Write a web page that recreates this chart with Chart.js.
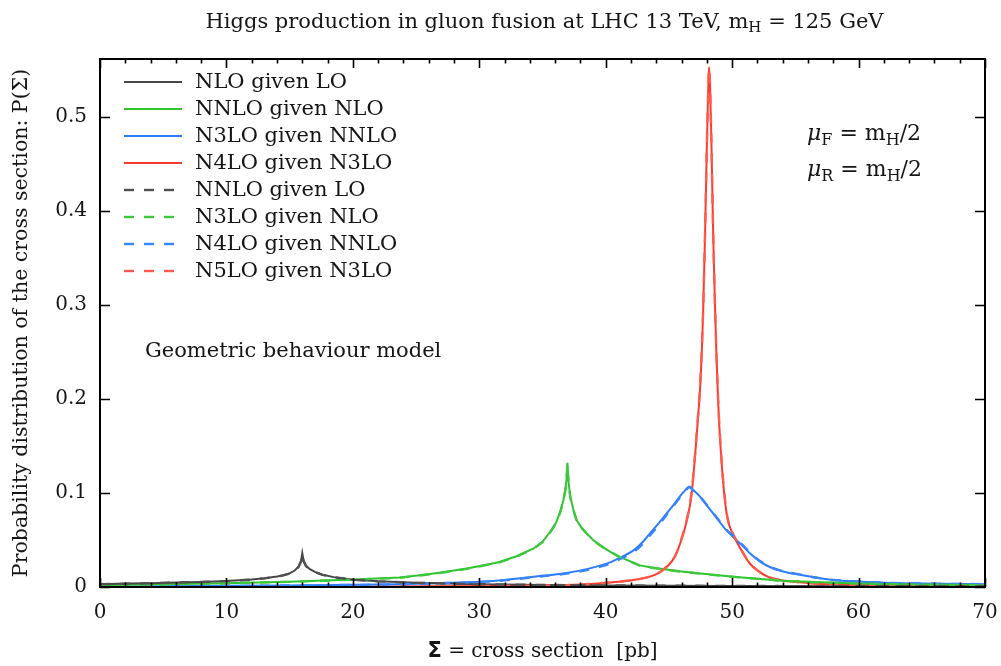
<!DOCTYPE html>
<html>
<head>
<meta charset="utf-8">
<script src="https://cdn.jsdelivr.net/npm/chart.js@4.4.1/dist/chart.umd.min.js"></script>
<style>
  html, body { margin: 0; padding: 0; background: #fff; }
  #wrap { width: 1001px; height: 666px; }
</style>
</head>
<body>
<div id="wrap"><canvas id="chart" width="1001" height="666"></canvas></div>
<script>
// cross section grid and probability density per expansion step
const nloLoX  = [0, 2, 4, 6, 8, 10, 12, 13, 14, 14.5, 15, 15.4, 15.7, 15.9, 16.0, 16.1, 16.3, 16.6, 17, 17.6, 18.5, 20, 22, 25, 30, 35, 40, 50, 60, 70];
const nloLoY  = [0.0030, 0.0036, 0.0041, 0.0047, 0.0054, 0.0064, 0.0080, 0.0093, 0.0112, 0.0125, 0.0145, 0.0175, 0.0215, 0.0275, 0.0360, 0.0280, 0.0225, 0.0190, 0.0160, 0.0130, 0.0105, 0.0078, 0.0060, 0.0044, 0.0030, 0.0022, 0.0017, 0.0011, 0.0008, 0.0006];
const nnloLoY = [0.0029, 0.0035, 0.0040, 0.0046, 0.0053, 0.0063, 0.0079, 0.0092, 0.0110, 0.0123, 0.0143, 0.0173, 0.0212, 0.0270, 0.0350, 0.0275, 0.0222, 0.0188, 0.0158, 0.0129, 0.0104, 0.0078, 0.0060, 0.0044, 0.0030, 0.0022, 0.0017, 0.0011, 0.0008, 0.0006];

const nnloNloX  = [0, 5, 10, 15, 20, 23.7, 25.3, 27, 29, 30.5, 31.6, 33, 34.3, 35, 35.6, 36.1, 36.4, 36.65, 36.8, 36.9, 36.97, 37.05, 37.2, 37.45, 37.7, 38.1, 38.5, 39, 39.6, 40.3, 41.1, 42, 42.7, 43.5, 44.8, 46, 47.5, 50.1, 52, 54, 56.5, 59.3, 62, 65, 70];
const nnloNloY  = [0.0022, 0.0028, 0.0040, 0.0056, 0.0080, 0.0100, 0.0125, 0.0155, 0.0196, 0.0235, 0.0266, 0.0330, 0.0410, 0.0480, 0.0585, 0.0690, 0.0800, 0.0920, 0.1030, 0.1140, 0.1320, 0.1130, 0.0960, 0.0820, 0.0710, 0.0630, 0.0570, 0.0500, 0.0440, 0.0380, 0.0320, 0.0270, 0.0230, 0.0210, 0.0185, 0.0165, 0.0143, 0.0110, 0.0088, 0.0067, 0.0052, 0.0040, 0.0032, 0.0026, 0.0020];
const n3loNloY  = [0.0021, 0.0027, 0.0039, 0.0055, 0.0078, 0.0098, 0.0122, 0.0152, 0.0193, 0.0232, 0.0263, 0.0327, 0.0407, 0.0477, 0.0580, 0.0685, 0.0795, 0.0915, 0.1025, 0.1135, 0.1310, 0.1125, 0.0955, 0.0815, 0.0705, 0.0625, 0.0566, 0.0497, 0.0438, 0.0378, 0.0318, 0.0268, 0.0228, 0.0208, 0.0183, 0.0163, 0.0141, 0.0108, 0.0087, 0.0066, 0.0051, 0.0039, 0.0031, 0.0025, 0.0019];

const n3loNnloX = [0, 5, 10, 15, 20, 23.7, 27, 30.1, 32, 34.3, 36.9, 38.5, 39.6, 40.5, 41.1, 42.2, 43, 43.5, 44.2, 44.8, 45.4, 45.9, 46.3, 46.6, 46.9, 47.4, 48.1, 48.8, 49.5, 50.1, 50.8, 51.4, 52.2, 53.2, 54.2, 55.4, 56.6, 58, 60, 62, 66, 70];
const n3loNnloY = [0.0005, 0.0008, 0.0012, 0.0017, 0.0023, 0.0030, 0.0042, 0.0057, 0.0075, 0.0110, 0.0150, 0.0190, 0.0230, 0.0270, 0.0310, 0.0390, 0.0490, 0.0570, 0.0680, 0.0780, 0.0880, 0.0970, 0.1030, 0.1070, 0.1035, 0.0970, 0.0850, 0.0730, 0.0610, 0.0530, 0.0440, 0.0360, 0.0270, 0.0200, 0.0160, 0.0130, 0.0100, 0.0075, 0.0058, 0.0045, 0.0035, 0.0030];
const n4loNnloY = [0.0005, 0.0008, 0.0011, 0.0016, 0.0022, 0.0029, 0.0040, 0.0054, 0.0071, 0.0104, 0.0142, 0.0180, 0.0218, 0.0256, 0.0295, 0.0372, 0.0468, 0.0548, 0.0660, 0.0765, 0.0870, 0.0960, 0.1020, 0.1060, 0.1030, 0.0970, 0.0855, 0.0737, 0.0618, 0.0540, 0.0450, 0.0368, 0.0278, 0.0205, 0.0163, 0.0132, 0.0101, 0.0076, 0.0059, 0.0046, 0.0036, 0.0030];

const n4loN3loX = [0, 20, 30, 34, 36.9, 39.6, 41, 42.2, 43.5, 44.2, 44.8, 45.5, 46.1, 46.4, 46.7, 46.9, 47.1, 47.3, 47.5, 47.7, 47.86, 48.0, 48.1, 48.17, 48.25, 48.35, 48.5, 48.62, 48.75, 48.9, 49.05, 49.3, 49.6, 50, 50.4, 51.4, 52.8, 54, 55.4, 57, 60, 65, 70];
const n4loN3loY = [0.0000, 0.0003, 0.0010, 0.0015, 0.0020, 0.0040, 0.0055, 0.0075, 0.0110, 0.0150, 0.0210, 0.0330, 0.0550, 0.0700, 0.0900, 0.1130, 0.1450, 0.1800, 0.2200, 0.2900, 0.3760, 0.4700, 0.5250, 0.5530, 0.5350, 0.4800, 0.3760, 0.3100, 0.2500, 0.1950, 0.1560, 0.1100, 0.0750, 0.0580, 0.0470, 0.0250, 0.0110, 0.0070, 0.0050, 0.0032, 0.0020, 0.0012, 0.0008];
const n5loN3loY = [0.0000, 0.0003, 0.0010, 0.0015, 0.0020, 0.0040, 0.0056, 0.0076, 0.0112, 0.0152, 0.0214, 0.0336, 0.0560, 0.0712, 0.0915, 0.1150, 0.1470, 0.1820, 0.2230, 0.2930, 0.3780, 0.4700, 0.5240, 0.5520, 0.5340, 0.4790, 0.3770, 0.3120, 0.2520, 0.1970, 0.1580, 0.1115, 0.0762, 0.0590, 0.0478, 0.0255, 0.0113, 0.0072, 0.0051, 0.0033, 0.0020, 0.0012, 0.0008];

const xTicks = [0, 10, 20, 30, 40, 50, 60, 70];
const yTicks = [0, 0.1, 0.2, 0.3, 0.4, 0.5];

const seriesLabels = [
  'NLO given LO', 'NNLO given NLO', 'N3LO given NNLO', 'N4LO given N3LO',
  'NNLO given LO', 'N3LO given NLO', 'N4LO given NNLO', 'N5LO given N3LO'
];

const GRAY = '#474747', GREEN = '#2ec52e', BLUE = '#2b7cff', RED = '#ff3b2e';
const GRAY_D = '#505050', GREEN_D = '#3dc83d', BLUE_D = '#3a84ff', RED_D = '#ff5a4c';
const SERIF = '"DejaVu Serif", serif';

function pts(xs, ys) {
  return xs.map((x, i) => ({ x: x, y: ys[i] }));
}

// smooth = rounded peak (blue/red), otherwise straight segments keep the cusps
function line(label, xs, ys, color, dashed, smooth) {
  return {
    label: label,
    data: pts(xs, ys),
    borderColor: color,
    backgroundColor: color,
    borderWidth: dashed ? 2.4 : 2,
    borderDash: dashed ? [10, 10] : [],
    cubicInterpolationMode: smooth ? 'monotone' : 'default',
    tension: 0,
    pointRadius: 0,
    fill: false,
    order: dashed ? 0 : 1
  };
}

// draws text made of runs (normal / italic / subscript / bold)
function richWidth(ctx, runs) {
  let w = 0;
  runs.forEach(r => { ctx.font = r.font; w += ctx.measureText(r.text).width; });
  return w;
}
function drawRich(ctx, runs, x, y, align) {
  let cx = x;
  const w = richWidth(ctx, runs);
  if (align === 'center') cx = x - w / 2;
  ctx.textAlign = 'left';
  ctx.textBaseline = 'alphabetic';
  runs.forEach(r => {
    ctx.font = r.font;
    ctx.fillText(r.text, cx, y + (r.dy || 0));
    cx += ctx.measureText(r.text).width;
  });
}

const framePlugin = {
  id: 'frame',
  afterDatasetsDraw(chart) {
    const ctx = chart.ctx;
    const a = chart.chartArea;
    const xs = chart.scales.x, ys = chart.scales.y;
    ctx.save();
    ctx.strokeStyle = '#000';
    ctx.lineWidth = 2;
    ctx.strokeRect(a.left, a.top, a.right - a.left, a.bottom - a.top);
    ctx.lineWidth = 1.6;
    ctx.beginPath();
    for (let v = 0; v <= 70; v += 2) {
      const px = Math.round(xs.getPixelForValue(v)) + 0.5;
      const len = v % 10 === 0 ? 9 : 4.5;
      ctx.moveTo(px, a.bottom); ctx.lineTo(px, a.bottom - len);
      ctx.moveTo(px, a.top); ctx.lineTo(px, a.top + len);
    }
    yTicks.forEach(v => {
      const py = Math.round(ys.getPixelForValue(v)) + 0.5;
      ctx.moveTo(a.left, py); ctx.lineTo(a.left + 10, py);
      ctx.moveTo(a.right, py); ctx.lineTo(a.right - 10, py);
    });
    ctx.stroke();
    ctx.restore();
  }
};

const textPlugin = {
  id: 'texts',
  afterDraw(chart) {
    const ctx = chart.ctx;
    const a = chart.chartArea;
    const cx = (a.left + a.right) / 2;
    ctx.save();
    ctx.fillStyle = '#151515';

    // title
    const tf = '21px ' + SERIF, ts = '15px ' + SERIF;
    drawRich(ctx, [
      { text: 'Higgs production in gluon fusion at LHC 13 TeV, m', font: tf },
      { text: 'H', font: ts, dy: 4 },
      { text: ' = 125 GeV', font: tf }
    ], cx + 2, 28, 'center');

    // x axis title
    drawRich(ctx, [
      { text: 'Σ', font: 'bold 21px "DejaVu Sans", sans-serif' },
      { text: ' = cross section  [pb]', font: '20px ' + SERIF }
    ], cx, 657, 'center');

    // y axis title
    ctx.save();
    ctx.translate(27, (a.top + a.bottom) / 2);
    ctx.rotate(-Math.PI / 2);
    drawRich(ctx, [
      { text: 'Probability distribution of the cross section: P(Σ)', font: '20.5px ' + SERIF }
    ], 0, 0, 'center');
    ctx.restore();

    // legend
    const lf = '21px ' + SERIF;
    chart.data.datasets.forEach((ds, i) => {
      const y = 82 + i * 27;
      ctx.save();
      ctx.strokeStyle = ds.borderColor;
      ctx.lineWidth = ds.borderWidth;
      ctx.setLineDash(ds.borderDash);
      ctx.beginPath();
      ctx.moveTo(124, y);
      ctx.lineTo(182, y);
      ctx.stroke();
      ctx.restore();
      ctx.font = lf;
      ctx.textAlign = 'left';
      ctx.textBaseline = 'middle';
      ctx.fillText(ds.label, 195, y + 1);
    });

    // scale choice
    const mf = '22px ' + SERIF, mi = 'italic 22px ' + SERIF, ms = '16px ' + SERIF;
    drawRich(ctx, [
      { text: 'μ', font: mi }, { text: 'F', font: ms, dy: 5 },
      { text: ' = m', font: mf }, { text: 'H', font: ms, dy: 5 }, { text: '/2', font: mf }
    ], 807, 140, 'left');
    drawRich(ctx, [
      { text: 'μ', font: mi }, { text: 'R', font: ms, dy: 5 },
      { text: ' = m', font: mf }, { text: 'H', font: ms, dy: 5 }, { text: '/2', font: mf }
    ], 807, 176, 'left');

    ctx.font = '21px ' + SERIF;
    ctx.textAlign = 'left';
    ctx.textBaseline = 'middle';
    ctx.fillText('Geometric behaviour model', 145, 352);
    ctx.restore();
  }
};

new Chart(document.getElementById('chart'), {
  type: 'line',
  data: {
    datasets: [
      line(seriesLabels[0], nloLoX, nloLoY, GRAY, false, false),
      line(seriesLabels[1], nnloNloX, nnloNloY, GREEN, false, false),
      line(seriesLabels[2], n3loNnloX, n3loNnloY, BLUE, false, true),
      line(seriesLabels[3], n4loN3loX, n4loN3loY, RED, false, true),
      line(seriesLabels[4], nloLoX, nnloLoY, GRAY_D, true, false),
      line(seriesLabels[5], nnloNloX, n3loNloY, GREEN_D, true, false),
      line(seriesLabels[6], n3loNnloX, n4loNnloY, BLUE_D, true, true),
      line(seriesLabels[7], n4loN3loX, n5loN3loY, RED_D, true, true)
    ]
  },
  options: {
    responsive: false,
    animation: false,
    layout: { padding: { left: 0, right: 16, top: 59, bottom: 0 } },
    plugins: { legend: { display: false }, tooltip: { enabled: false }, title: { display: false } },
    scales: {
      x: {
        type: 'linear',
        min: 0, max: 70,
        grid: { display: false, drawTicks: false },
        border: { display: false },
        afterFit(scale) {
          scale.height = 79;
          scale.paddingLeft = 0;
          scale.paddingRight = 0;
        },
        afterBuildTicks(scale) { scale.ticks = xTicks.map(v => ({ value: v })); },
        ticks: {
          padding: 14,
          maxRotation: 0,
          color: '#151515',
          font: { family: SERIF, size: 20 },
          callback: v => String(v)
        }
      },
      y: {
        type: 'linear',
        min: 0, max: 0.5617,
        grid: { display: false, drawTicks: false },
        border: { display: false },
        afterFit(scale) {
          scale.width = 100;
          scale.paddingTop = 0;
          scale.paddingBottom = 0;
        },
        afterBuildTicks(scale) { scale.ticks = yTicks.map(v => ({ value: v })); },
        ticks: {
          padding: 13,
          color: '#151515',
          font: { family: SERIF, size: 20 },
          callback: v => (v === 0 ? '0' : v.toFixed(1))
        }
      }
    }
  },
  plugins: [framePlugin, textPlugin]
});
</script>
</body>
</html>
